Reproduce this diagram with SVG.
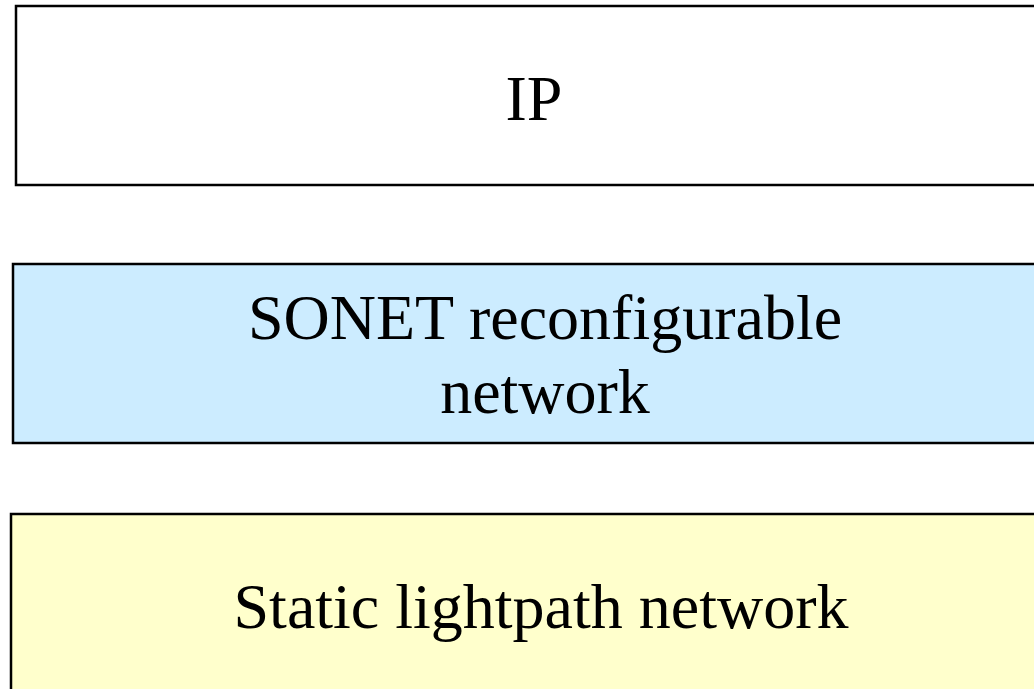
<svg xmlns="http://www.w3.org/2000/svg" width="1034" height="689" viewBox="0 0 1034 689">
<style>
.box{stroke:#000;stroke-width:2.5}
.lbl{font-family:"Liberation Serif","Times New Roman",serif;font-size:64px;fill:#000;text-anchor:middle}
</style>
<rect x="0" y="0" width="1034" height="689" fill="#fff"/>
<g id="ip">
<rect class="box" x="16" y="6" width="1040" height="179" fill="#fff"/>
<text class="lbl" x="534" y="120">IP</text>
</g>
<g id="sonet">
<rect class="box" x="13" y="264" width="1040" height="179" fill="#CCECFF"/>
<text class="lbl" x="545" y="339">SONET reconfigurable</text>
<text class="lbl" x="545" y="413">network</text>
</g>
<g id="static">
<rect class="box" x="11" y="514" width="1040" height="200" fill="#FFFFCC"/>
<text class="lbl" x="541" y="628">Static lightpath network</text>
</g>
<g id="connectors"/>
</svg>
